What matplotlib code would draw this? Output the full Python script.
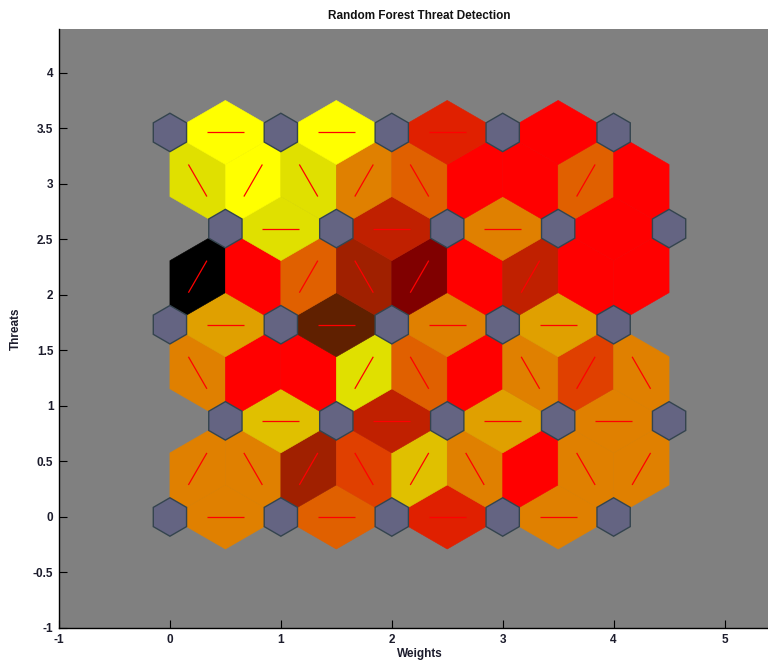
import numpy as np
import matplotlib
matplotlib.use("Agg")
import matplotlib.pyplot as plt
from matplotlib.patches import Polygon
from matplotlib.ticker import FuncFormatter

# ---------------- data ----------------
title = "Random Forest Threat Detection"
xlabel = "Weights"
ylabel = "Threats"
grid_rows = 5
grid_cols = 5
xticks = [-1, 0, 1, 2, 3, 4, 5]
yticks = [-1, -0.5, 0, 0.5, 1, 1.5, 2, 2.5, 3, 3.5, 4]

# connection colours (neighbour distance), ordered bottom row -> top, left -> right
row0_h = ["#e08000", "#e06000", "#e02000", "#e08000"]
d01 = ["#e08000", "#e08000", "#a02000", "#e04000", "#e0c000",
       "#e08000", "#ff0000", "#e08000", "#e08000"]
row1_h = ["#e0c000", "#c02000", "#e0a000", "#e08000"]
d12 = ["#e08000", "#ff0000", "#ff0000", "#e0e000", "#e06000",
       "#ff0000", "#e08000", "#e04000", "#e08000"]
row2_h = ["#e0a000", "#602000", "#e08000", "#e0a000"]
d23 = ["#000000", "#ff0000", "#e06000", "#a02000", "#800000",
       "#ff0000", "#c02000", "#ff0000", "#ff0000"]
row3_h = ["#e0e000", "#c02000", "#e08000", "#ff0000"]
d34 = ["#e0e000", "#ffff00", "#e0e000", "#e08000", "#e06000",
       "#ff0000", "#ff0000", "#e06000", "#ff0000"]
row4_h = ["#ffff00", "#ffff00", "#e02000", "#ff0000"]

conn_colors = (row0_h + d01 + row1_h + d12 + row2_h + d23 +
               row3_h + d34 + row4_h)

# ---------------- geometry ----------------
pos = np.array([[c + 0.5 * (r % 2), r * np.sqrt(3) / 2]
                for r in range(grid_rows) for c in range(grid_cols)])

pairs = []
for i in range(len(pos)):
    for j in range(i + 1, len(pos)):
        if abs(np.linalg.norm(pos[i] - pos[j]) - 1) < 1e-6:
            pairs.append((i, j))
pairs.sort(key=lambda p: (round((pos[p[0]][1] + pos[p[1]][1]) / 2, 3),
                          (pos[p[0]][0] + pos[p[1]][0]) / 2))

rn = 0.3 / np.sqrt(3)   # neuron hexagon radius
rv = 0.5 / np.sqrt(3)   # half cell-edge length


def u(a):
    return np.array([np.cos(a), np.sin(a)])


fig = plt.figure(figsize=(7.68, 6.62), dpi=100)
ax = fig.add_axes([59 / 768, 34 / 662, 721 / 768, 599 / 662])
ax.set_facecolor("#808080")

d30 = np.pi / 6
for (i, j), col in zip(pairs, conn_colors):
    pi, pj = pos[i], pos[j]
    d = pj - pi
    th = np.arctan2(d[1], d[0])
    mid = (pi + pj) / 2
    verts = [pi + rn * u(th - d30), mid + rv * u(th - 3 * d30),
             pj + rn * u(th - 5 * d30), pj + rn * u(th + 5 * d30),
             mid + rv * u(th + 3 * d30), pi + rn * u(th + d30)]
    ax.add_patch(Polygon(verts, closed=True, facecolor=col, edgecolor=col,
                         linewidth=0.4, zorder=1))
    a = pi + d / 3
    b = pi + 2 * d / 3
    ax.plot([a[0], b[0]], [a[1], b[1]], color="#ff0000", lw=0.9, zorder=2,
            solid_capstyle="butt")

ang = np.pi / 6 + np.arange(6) * np.pi / 3
for p in pos:
    verts = np.column_stack([p[0] + rn * np.cos(ang), p[1] + rn * np.sin(ang)])
    ax.add_patch(Polygon(verts, closed=True, facecolor="#646482",
                         edgecolor="#34444e", linewidth=1.0, zorder=3))

ax.set_xlim(-1, 5.5)
ax.set_ylim(-1, 4.396)
ax.set_xticks(xticks)
ax.set_yticks(yticks)
ax.yaxis.set_major_formatter(FuncFormatter(lambda v, _: "%g" % v))
ax.xaxis.set_major_formatter(FuncFormatter(lambda v, _: "%g" % v))
for s in ["top", "right"]:
    ax.spines[s].set_visible(False)
for s in ["left", "bottom"]:
    ax.spines[s].set_color("black")
    ax.spines[s].set_linewidth(1.0)
ax.tick_params(direction="in", length=6, width=0.8, colors="black",
               labelsize=8.5, labelcolor="#1c1c2c", pad=4)
for lab in ax.get_xticklabels() + ax.get_yticklabels():
    lab.set_fontweight("bold")
    lab.set_family("Liberation Sans")

ax.set_title(title, fontsize=8.5, fontweight="bold", family="Liberation Sans",
             color="#111111", pad=7)
ax.set_xlabel(xlabel, fontsize=8.5, fontweight="bold", family="Liberation Sans",
              color="#1c1c2c", labelpad=2)
ax.set_ylabel(ylabel, fontsize=8.5, fontweight="bold", family="Liberation Sans",
              color="#1c1c2c", labelpad=8)

fig.savefig("out.png", dpi=100, facecolor="white")
